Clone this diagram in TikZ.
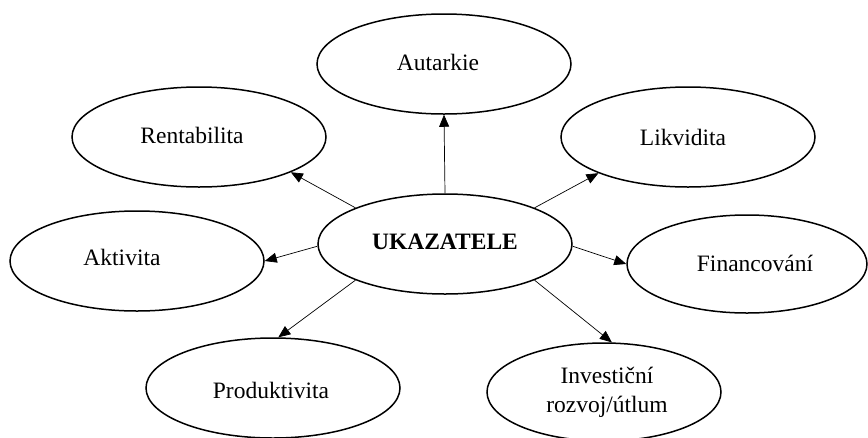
\documentclass[tikz,border=0pt]{standalone}
\usepackage{fontspec}
\setmainfont{Liberation Serif}
\usetikzlibrary{shapes.geometric,arrows.meta}

\begin{document}
\begin{tikzpicture}[x=1pt,y=-1pt,
  oval/.style={ellipse,draw=black,line width=1.5pt,inner sep=0pt,
               minimum width=254pt,minimum height=100pt},
  lbl/.style={inner sep=0pt,align=center,
              font=\fontsize{23.5}{29}\selectfont},
  link/.style={line width=0.7pt,-{Triangle[length=12pt,width=10pt]}}]

\useasboundingbox (0,0) rectangle (868,437);
\fill[white] (0,0) rectangle (868,437);

% ellipses
\node[oval] (u)   at (445,244) {};
\node[oval] (aut) at (444,64)  {};
\node[oval] (ren) at (199,137) {};
\node[oval] (lik) at (688,137) {};
\node[oval] (akt) at (137,261) {};
\node[oval,minimum width=240pt,minimum height=98pt] (fin) at (747,264) {};
\node[oval] (pro) at (273,388) {};
\node[oval,minimum width=234pt,minimum height=98pt] (inv) at (604,392) {};

% labels
\node[lbl,font=\fontsize{23.5}{29}\selectfont\bfseries] (tu) at (445,242) {UKAZATELE};
\node[lbl] (taut) at (438,62)  {Autarkie};
\node[lbl] (tren) at (192,135) {Rentabilita};
\node[lbl] (tlik) at (683,137) {Likvidita};
\node[lbl] (takt) at (122,257) {Aktivita};
\node[lbl] (tfin) at (755,263) {Financování};
\node[lbl] (tpro) at (271,390) {Produktivita};
\node[lbl] (tinv) at (607,392) {Investiční\\rozvoj/útlum};

% connectors from the centre
\draw[link] (u.90)   -- (aut.-90);
\draw[link] (u.158)  -- (ren.-21.6);
\draw[link] (u.22.4) -- (lik.-158);
\draw[link] (u.181)  -- (akt.0);
\draw[link] (u.-1)   -- (fin.180);
\draw[link] (u.202)  -- (pro.84);
\draw[link] (u.-22.4) -- (inv.81);
\end{tikzpicture}
\end{document}
